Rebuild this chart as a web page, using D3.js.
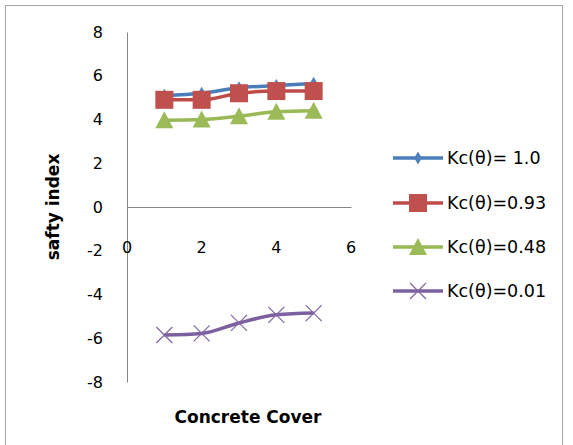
<!DOCTYPE html>
<html>
<head>
<meta charset="utf-8">
<script src="https://cdn.jsdelivr.net/npm/d3@7"></script>
<style>
  body { margin: 0; background: #fff; }
  svg { display: block; }
  text { font-family: "DejaVu Sans", sans-serif; fill: #000; }
</style>
</head>
<body>
<svg id="chart" width="573" height="445"></svg>
<script>
// данные графика
const coverValues = [1, 2, 3, 4, 5]
const xTicks = [0, 2, 4, 6]
const yTicks = [8, 6, 4, 2, 0, -2, -4, -6, -8]
const seriesNames = ["Kc(θ)= 1.0", "Kc(θ)=0.93", "Kc(θ)=0.48", "Kc(θ)=0.01"]
const kc100 = [5.1, 5.2, 5.45, 5.55, 5.65]
const kc093 = [4.9, 4.9, 5.2, 5.3, 5.3]
const kc048 = [3.97, 4.0, 4.15, 4.35, 4.4]
const kc001 = [-5.85, -5.78, -5.3, -4.93, -4.85]

const seriesValues = [kc100, kc093, kc048, kc001]
const lineColors = ["#4a7ebb", "#be4b48", "#98b954", "#7d60a0"]
const markerTypes = ["diamond", "square", "triangle", "cross"]

let svg = d3.select("#chart")

// рамка области диаграммы
svg.append("rect")
    .attr("x", 5.5).attr("y", 5.5)
    .attr("width", 557).attr("height", 445)
    .style("fill", "none")
    .style("stroke", "#a6a6a6")

let scaleX = d3.scaleLinear().domain([0, 6]).range([127, 351])
let scaleY = d3.scaleLinear().domain([-8, 8]).range([382, 32])

// оси
svg.append("g")
    .attr("transform", `translate(0, ${scaleY(0)})`)
    .call(d3.axisBottom(scaleX).tickValues([]).tickSizeOuter(0))
    .select(".domain").style("stroke", "#868686")

svg.append("g")
    .attr("transform", `translate(${scaleX(0)}, 0)`)
    .call(d3.axisLeft(scaleY).tickValues([]).tickSizeOuter(0))
    .select(".domain").style("stroke", "#868686")

// подписи делений
svg.selectAll(".ytick")
    .data(yTicks)
    .enter()
    .append("text")
    .attr("x", 103)
    .attr("y", d => scaleY(d))
    .attr("dy", "0.35em")
    .style("text-anchor", "end")
    .style("font-size", "16px")
    .text(d => d)

svg.selectAll(".xtick")
    .data(xTicks)
    .enter()
    .append("text")
    .attr("x", d => scaleX(d))
    .attr("y", 247)
    .attr("dy", "0.35em")
    .style("text-anchor", "middle")
    .style("font-size", "16px")
    .text(d => d)

// подписи осей
svg.append("text")
    .attr("transform", "translate(53, 207) rotate(-90)")
    .attr("dy", "0.35em")
    .style("text-anchor", "middle")
    .style("font-size", "17px")
    .style("font-weight", "bold")
    .text("safty index")

svg.append("text")
    .attr("x", 248)
    .attr("y", 417)
    .attr("dy", "0.35em")
    .style("text-anchor", "middle")
    .style("font-size", "17px")
    .style("font-weight", "bold")
    .text("Concrete Cover")

function drawMarker(g, type, color) {
    if (type == "diamond") {
        g.append("path").attr("d", d3.symbol(d3.symbolDiamond, 50)())
            .style("fill", "#4f81bd")
    } else if (type == "square") {
        g.append("rect").attr("x", -9).attr("y", -9).attr("width", 18).attr("height", 18)
            .style("fill", "#c0504d")
    } else if (type == "triangle") {
        g.append("path").attr("d", "M0,-9L9,8L-9,8Z")
            .style("fill", "#9bbb59")
    } else {
        g.append("path").attr("d", "M-8,-8L8,8M-8,8L8,-8")
            .style("stroke", "#8064a2").style("stroke-width", 1.2).style("fill", "none")
    }
}

const lineGen = d3.line()
    .x((d, i) => scaleX(coverValues[i]))
    .y(d => scaleY(d))
    .curve(d3.curveMonotoneX)

// линии и маркеры (снизу вверх, синяя последней)
const order = [3, 2, 0, 1]
order.forEach(s => {
    svg.append("path")
        .datum(seriesValues[s])
        .attr("d", lineGen)
        .style("fill", "none")
        .style("stroke", lineColors[s])
        .style("stroke-width", 3.5)
        .style("stroke-linejoin", "round")

    seriesValues[s].forEach((v, i) => {
        let g = svg.append("g")
            .attr("transform", `translate(${scaleX(coverValues[i])}, ${scaleY(v)})`)
        drawMarker(g, markerTypes[s], lineColors[s])
    })
})

// легенда
const legendY = [158, 203, 247, 291]
seriesNames.forEach((name, s) => {
    svg.append("line")
        .attr("x1", 393).attr("x2", 443)
        .attr("y1", legendY[s]).attr("y2", legendY[s])
        .style("stroke", lineColors[s])
        .style("stroke-width", 3.5)
    let g = svg.append("g").attr("transform", `translate(418, ${legendY[s]})`)
    drawMarker(g, markerTypes[s], lineColors[s])
    svg.append("text")
        .attr("x", 447)
        .attr("y", legendY[s])
        .attr("dy", "0.35em")
        .style("font-size", "17.5px")
        .text(name)
})
</script>
</body>
</html>
